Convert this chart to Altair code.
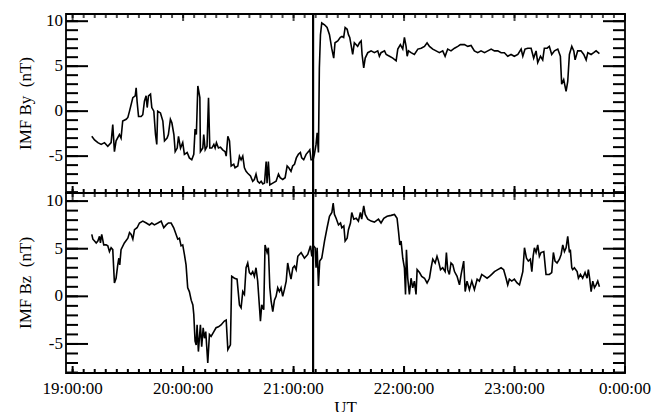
import altair as alt
import pandas as pd

# Interplanetary magnetic field, time in minutes after 19:00 UT, field in nT
by_minutes = [
    10.4, 11.9, 13.7, 15.5, 17.3, 19.1, 20.9, 21.8, 22.7, 23.6,
    25.4, 26.3, 27.2, 29.1, 30.0, 30.9, 32.7, 34.0, 34.5, 35.0,
    35.8, 37.2, 38.1, 39.0, 39.9, 40.5, 41.2, 42.3, 43.0, 44.1,
    45.0, 45.7, 46.2, 47.7, 49.0, 49.9, 51.3, 52.0, 53.1, 53.9,
    55.0, 55.7, 56.8, 57.5, 58.6, 59.8, 60.7, 62.2, 63.4, 64.7,
    65.8, 66.5, 67.2, 68.0, 69.1, 69.4, 70.7, 71.2, 72.0, 73.0,
    73.8, 74.5, 75.6, 76.7, 77.4, 78.1, 79.2, 80.3, 81.5, 82.8,
    83.4, 84.3, 85.2, 86.1, 87.5, 88.2, 89.7, 90.6, 91.5, 92.4,
    93.3, 94.2, 95.1, 96.6, 97.8, 98.7, 99.6, 100.5, 101.5, 102.4,
    103.3, 104.2, 105.1, 105.6, 106.3, 107.1, 108.7, 110.5, 111.8, 112.7,
    114.1, 115.4, 116.5, 117.4, 118.6, 119.5, 120.5, 121.5, 122.6, 123.7,
    124.4, 125.5, 126.8, 128.1, 128.8, 129.5, 130.6, 131.3, 132.2, 132.8,
    133.5, 134.0, 134.6, 135.3, 136.8, 138.2, 139.5, 140.7, 141.8, 142.5,
    144.0, 145.4, 146.3, 147.2, 148.0, 149.1, 149.8, 150.5, 151.2, 152.1,
    153.0, 154.8, 155.8, 156.7, 157.2, 158.1, 158.9, 160.3, 162.1, 163.9,
    165.7, 166.6, 167.5, 169.4, 170.3, 172.1, 173.9, 175.7, 176.6, 178.0,
    179.3, 180.2, 181.1, 181.7, 182.4, 183.8, 185.6, 187.5, 189.3, 191.1,
    192.5, 193.8, 195.6, 197.4, 199.2, 201.0, 202.3, 203.7, 205.5, 207.4,
    209.2, 210.6, 212.8, 214.6, 216.4, 218.2, 220.0, 221.8, 223.7, 225.5,
    227.3, 229.1, 230.9, 232.7, 234.5, 236.3, 238.1, 239.9, 241.8, 243.6,
    244.5, 245.7, 247.2, 249.0, 250.4, 251.7, 252.6, 254.1, 255.3, 256.2,
    257.7, 258.9, 260.2, 261.7, 263.5, 264.9, 265.6, 266.7, 268.0, 268.9,
    269.8, 271.1, 272.2, 272.9, 274.3, 276.1, 277.6, 278.9, 279.8, 281.6,
    283.0, 284.3, 286.1,
]
by_nt = [
    -2.8, -3.2, -3.5, -3.7, -3.5, -3.9, -3.5, -1.5, -4.5, -3.3,
    -2.6, -3.0, -1.1, -0.9, -0.7, 0.0, 1.5, 1.7, 2.6, 1.1,
    -0.6, -0.6, -0.4, 1.1, 1.7, 0.4, 1.7, 1.9, 0.4, 0.0,
    -2.6, -3.7, 0.0, -0.2, -1.1, -3.3, -3.0, -2.6, -0.9, -1.3,
    -2.6, -4.5, -4.1, -2.8, -4.1, -3.5, -4.8, -4.6, -5.2, -5.4,
    -4.8, -2.0, -2.6, 2.8, 1.5, -4.5, -4.1, -2.6, -4.3, -3.9,
    1.5, -4.1, -4.1, -3.7, -4.1, -3.5, -4.1, -4.0, -4.3, -4.5,
    -5.0, -2.8, -3.3, -6.1, -5.9, -6.3, -6.1, -5.0, -5.4, -5.0,
    -6.3, -6.7, -6.9, -7.2, -7.8, -7.6, -7.0, -7.8, -8.0, -7.8,
    -8.1, -8.0, -5.6, -8.0, -5.6, -8.2, -8.0, -7.8, -7.0, -7.4,
    -7.6, -7.4, -6.1, -6.3, -6.7, -6.1, -5.9, -5.2, -4.8, -4.6,
    -5.2, -5.4, -4.8, -4.5, -4.3, -5.4, -5.4, -4.8, -3.7, -2.4,
    -4.6, 4.8, 8.5, 9.8, 9.6, 9.3, 8.5, 7.0, 5.9, 7.6,
    7.8, 8.2, 8.3, 8.2, 9.3, 9.1, 8.5, 8.2, 7.4, 6.3,
    7.6, 7.2, 7.6, 7.8, 6.3, 4.8, 5.9, 6.5, 6.7, 6.5,
    6.7, 6.1, 6.5, 6.7, 6.3, 6.1, 5.9, 5.6, 6.9, 7.4,
    6.9, 8.2, 7.2, 6.1, 6.7, 6.5, 6.3, 6.9, 7.0, 7.2,
    7.6, 7.2, 6.9, 6.7, 6.5, 6.7, 6.1, 6.9, 6.7, 7.0,
    7.2, 7.4, 7.4, 7.2, 7.3, 6.7, 6.5, 6.7, 6.5, 6.7,
    6.9, 6.7, 6.7, 6.5, 6.5, 6.1, 6.3, 6.1, 6.3, 6.9,
    6.1, 6.9, 7.0, 7.0, 5.9, 6.7, 5.4, 6.1, 5.7, 7.0,
    7.0, 7.2, 6.3, 6.7, 6.9, 6.1, 3.0, 3.5, 2.2, 3.3,
    6.3, 7.2, 6.7, 5.7, 6.7, 6.7, 6.3, 5.7, 6.5, 6.3,
    6.5, 6.7, 6.4,
]

bz_minutes = [
    10.4, 11.0, 11.9, 12.8, 13.7, 14.6, 15.1, 15.8, 16.9, 18.2,
    19.1, 20.0, 20.9, 21.8, 22.7, 23.6, 24.5, 25.1, 25.6, 26.3,
    28.1, 30.0, 30.9, 31.8, 32.7, 33.6, 35.0, 36.3, 38.1, 40.0,
    41.7, 43.0, 44.4, 46.3, 48.1, 49.5, 50.8, 52.0, 53.5, 54.9,
    56.2, 57.1, 58.0, 58.9, 59.8, 60.7, 61.6, 62.5, 63.4, 64.4,
    65.3, 65.8, 66.5, 67.1, 67.6, 68.3, 69.4, 70.1, 70.9, 71.6,
    72.3, 73.4, 74.3, 75.2, 76.7, 77.9, 79.2, 80.6, 82.4, 83.4,
    84.3, 85.7, 86.4, 87.9, 89.3, 90.6, 91.5, 92.4, 93.3, 94.2,
    95.1, 96.0, 96.9, 97.8, 98.7, 99.6, 100.5, 101.5, 102.0, 102.7,
    103.8, 104.5, 105.6, 106.3, 107.1, 107.8, 108.7, 109.6, 110.5, 111.4,
    112.3, 113.2, 114.1, 115.0, 116.0, 116.8, 117.7, 118.6, 119.6, 120.5,
    121.4, 122.3, 124.1, 125.9, 127.7, 129.2, 129.9, 130.8, 131.7, 132.2,
    132.8, 133.5, 134.2, 135.3, 136.8, 138.2, 139.5, 140.8, 141.5, 142.2,
    143.1, 144.4, 145.5, 146.2, 147.3, 148.0, 149.1, 149.8, 150.9, 151.6,
    152.7, 154.0, 155.2, 156.3, 157.0, 158.1, 158.9, 160.3, 162.1, 163.9,
    166.1, 167.5, 169.0, 170.8, 173.0, 174.8, 176.2, 177.0, 177.7, 178.4,
    179.3, 180.2, 180.8, 181.3, 182.0, 182.9, 183.8, 184.7, 185.6, 186.5,
    187.1, 188.4, 189.6, 191.1, 192.5, 193.8, 194.7, 195.6, 196.9, 197.9,
    198.7, 199.8, 201.0, 202.3, 203.0, 203.7, 204.6, 205.5, 206.5, 207.4,
    208.8, 210.1, 211.0, 211.9, 212.4, 213.2, 214.2, 215.5, 216.8, 218.2,
    219.7, 220.9, 222.2, 223.7, 225.1, 226.4, 227.6, 229.1, 230.9, 232.7,
    234.1, 235.4, 236.3, 237.2, 238.5, 239.9, 241.4, 242.7, 243.6, 244.5,
    245.4, 246.5, 247.5, 248.6, 249.4, 250.1, 250.8, 251.7, 252.6, 253.5,
    254.4, 255.9, 257.1, 258.9, 260.2, 261.1, 262.0, 263.1, 264.4, 265.3,
    266.2, 267.1, 268.0, 268.9, 269.8, 270.3, 271.1, 271.6, 272.5, 274.0,
    274.7, 275.8, 277.0, 278.3, 279.4, 280.1, 280.8, 281.6, 282.5, 283.4,
    284.3, 285.2, 286.1,
]
bz_nt = [
    6.5, 6.0, 5.8, 5.6, 5.8, 6.3, 5.6, 6.5, 5.4, 5.4,
    5.3, 4.7, 5.1, 4.9, 1.4, 1.9, 3.3, 4.0, 3.3, 4.9,
    5.6, 6.1, 6.7, 6.5, 6.0, 7.0, 7.2, 7.7, 7.9, 7.7,
    7.5, 7.7, 7.5, 7.7, 7.9, 7.2, 7.5, 7.7, 7.7, 7.2,
    6.5, 6.0, 6.1, 5.3, 5.4, 4.4, 3.3, 0.9, 0.5, -0.4,
    -0.9, -1.9, -4.7, -5.1, -3.0, -5.8, -3.0, -5.3, -3.3, -4.4,
    -3.7, -7.0, -4.0, -4.2, -3.7, -3.3, -3.2, -3.0, -2.6, -2.5,
    -5.6, -5.1, 2.1, 1.9, 1.8, -0.9, -1.2, 0.5, 0.2, 3.0,
    3.5, 2.5, 2.3, 2.6, 2.1, 3.0, 1.6, -1.2, -2.6, -0.9,
    -1.4, 5.4, 4.6, 5.1, 0.9, -0.5, -1.6, -0.4, 0.0, 0.9,
    0.5, 0.9, 0.0, 0.7, 1.6, 3.5, 2.6, 1.8, 3.0, 3.2,
    2.8, 4.2, 4.6, 4.0, 4.4, 5.3, 4.2, 5.3, 5.1, 3.0,
    5.1, 1.1, 3.7, 4.0, 5.8, 7.2, 8.4, 8.8, 9.8, 8.6,
    8.2, 7.5, 7.7, 7.2, 7.4, 5.8, 6.1, 7.0, 7.7, 8.8,
    8.1, 8.2, 7.9, 8.8, 8.1, 9.5, 8.6, 8.1, 7.9, 7.8,
    8.1, 7.7, 8.2, 8.4, 8.5, 8.6, 8.2, 6.8, 5.4, 5.8,
    4.0, 3.0, 0.2, 4.9, 1.9, 0.2, 1.9, 0.9, 1.6, 0.2,
    2.8, 2.5, 2.1, 1.9, 1.4, 1.9, 3.0, 3.9, 3.5, 4.2,
    3.7, 2.8, 3.0, 2.6, 4.6, 2.8, 2.3, 3.5, 3.3, 2.6,
    2.1, 1.2, 2.3, 3.2, 3.7, 0.5, 1.6, 0.7, 1.6, 0.7,
    1.8, 1.6, 2.3, 2.1, 1.9, 2.1, 2.3, 2.6, 2.8, 3.0,
    2.8, 1.9, 1.2, 1.8, 1.6, 1.8, 1.4, 1.2, 1.9, 2.6,
    5.1, 4.0, 3.7, 3.9, 2.6, 4.2, 5.1, 4.6, 5.4, 4.2,
    4.6, 4.7, 2.3, 2.3, 2.5, 4.6, 3.7, 3.5, 3.9, 4.4,
    5.4, 4.7, 5.1, 6.3, 4.6, 4.9, 3.0, 2.8, 3.0, 2.6,
    1.9, 2.3, 1.9, 2.5, 1.9, 2.8, 1.9, 0.5, 1.6, 0.9,
    1.2, 1.6, 1.0,
]

# Time of the marked discontinuity (minutes after 19:00 UT)
marker_minutes = [130.6]

# Tick positions: hours (UT) and nT
hour_ticks = [19, 20, 21, 22, 23, 24]
hour_labels = ["19:00:00", "20:00:00", "21:00:00", "22:00:00", "23:00:00", "0:00:00"]
minor_hour_ticks = [round(19 + 0.1 * i, 1) for i in range(51)]
nt_major_ticks = [-5, 0, 5, 10]
nt_major_labels = ["-5", "0", "5", "10"]

FONT = "Liberation Serif, Times New Roman, Times, serif"
FS = 17
X_DOMAIN = [18.94, 24.0]
WIDTH = 559
MAJOR_Y, MINOR_Y = 22, 12   # tick lengths on the field axes (px)
MAJOR_X, MINOR_X = 7, 4     # tick lengths on the time axes (px)
TICK_W = 2


def ut_hours(minutes):
    return [19 + m / 60.0 for m in minutes]


def panel(minutes, values, ylabel, ydomain, yminor, height, time_labels):
    df = pd.DataFrame({"ut": ut_hours(minutes), "nt": values})
    xs = alt.Scale(domain=X_DOMAIN, nice=False, zero=False)
    ys = alt.Scale(domain=ydomain, nice=False, zero=False)
    hours_per_px = (X_DOMAIN[1] - X_DOMAIN[0]) / WIDTH
    nt_per_px = (ydomain[1] - ydomain[0]) / height

    def xe(field):
        return alt.X(field, scale=xs, axis=None)

    def ye(field):
        return alt.Y(field, scale=ys, axis=None)

    trace = alt.Chart(df).mark_line(color="black", strokeWidth=1.6).encode(
        x=xe("ut:Q"), y=ye("nt:Q")
    )

    # left ticks: pixel offsets from the frame
    def ticks_left(vals, length):
        return alt.Chart(pd.DataFrame({"nt": vals})).mark_rule(
            color="black", strokeWidth=TICK_W
        ).encode(y=ye("nt:Q"), x=alt.value(0), x2=alt.value(length))

    # right ticks: both ends placed through the time scale
    def ticks_right(vals, length):
        d = pd.DataFrame({"nt": vals})
        d["t0"] = X_DOMAIN[1] - length * hours_per_px
        d["t1"] = X_DOMAIN[1]
        return alt.Chart(d).mark_rule(color="black", strokeWidth=TICK_W).encode(
            y=ye("nt:Q"), x=xe("t0:Q"), x2="t1:Q"
        )

    # top ticks: tick marks hanging from the upper edge
    def ticks_top(vals, length):
        return alt.Chart(pd.DataFrame({"ut": vals})).mark_tick(
            color="black", thickness=TICK_W, size=length, orient="vertical"
        ).encode(x=xe("ut:Q"), y=alt.value(length / 2))

    # bottom ticks: both ends placed through the field scale
    def ticks_bottom(vals, length):
        d = pd.DataFrame({"ut": vals})
        d["v0"] = ydomain[0]
        d["v1"] = ydomain[0] + length * nt_per_px
        return alt.Chart(d).mark_rule(color="black", strokeWidth=TICK_W).encode(
            x=xe("ut:Q"), y=ye("v0:Q"), y2="v1:Q"
        )

    layers = [
        trace,
        ticks_left(nt_major_ticks, MAJOR_Y),
        ticks_left(yminor, MINOR_Y),
        ticks_right(nt_major_ticks, MAJOR_Y),
        ticks_right(yminor, MINOR_Y),
        ticks_top(hour_ticks, MAJOR_X),
        ticks_top(minor_hour_ticks, MINOR_X),
        ticks_bottom(hour_ticks, MAJOR_X),
        ticks_bottom(minor_hour_ticks, MINOR_X),
    ]

    # tick labels on the field axis and the rotated axis title
    layers.append(
        alt.Chart(pd.DataFrame({"nt": nt_major_ticks, "label": nt_major_labels}))
        .mark_text(align="right", baseline="middle", font=FONT, fontSize=FS, color="black")
        .encode(y=ye("nt:Q"), x=alt.value(-3), text="label:N")
    )
    layers.append(
        alt.Chart(pd.DataFrame({"title": [ylabel]}))
        .mark_text(angle=270, align="center", baseline="middle", font=FONT,
                   fontSize=FS, color="black")
        .encode(x=alt.value(-40), y=alt.value(height / 2), text="title:N")
    )

    if time_labels:
        layers.append(
            alt.Chart(pd.DataFrame({"ut": hour_ticks, "label": hour_labels}))
            .mark_text(align="center", baseline="middle", font=FONT, fontSize=FS, color="black")
            .encode(x=xe("ut:Q"), y=alt.value(height + 16), text="label:N")
        )
        layers.append(
            alt.Chart(pd.DataFrame({"title": ["UT"]}))
            .mark_text(align="center", baseline="middle", font=FONT, fontSize=FS, color="black")
            .encode(x=alt.value(WIDTH / 2), y=alt.value(height + 35), text="title:N")
        )

    layers.append(
        alt.Chart(pd.DataFrame({"ut": ut_hours(marker_minutes)}))
        .mark_rule(color="black", strokeWidth=2.2)
        .encode(x=xe("ut:Q"))
    )

    return alt.layer(*layers).properties(width=WIDTH, height=height)


top = panel(by_minutes, by_nt, "IMF By \u00a0(nT)", [-9.1, 10.8],
            list(range(-9, 11)), 179, False)
bottom = panel(bz_minutes, bz_nt, "IMF Bz \u00a0(nT)", [-8.05, 10.85],
               list(range(-8, 11)), 180, True)

chart = (
    alt.vconcat(top, bottom, spacing=0, bounds="flush")
    .properties(padding={"left": 16, "top": 11, "right": 5, "bottom": 0}, background="white")
    .configure_view(stroke="black", strokeWidth=1.8)
)

chart.save("out.html", embed_options={"renderer": "svg", "actions": False})
